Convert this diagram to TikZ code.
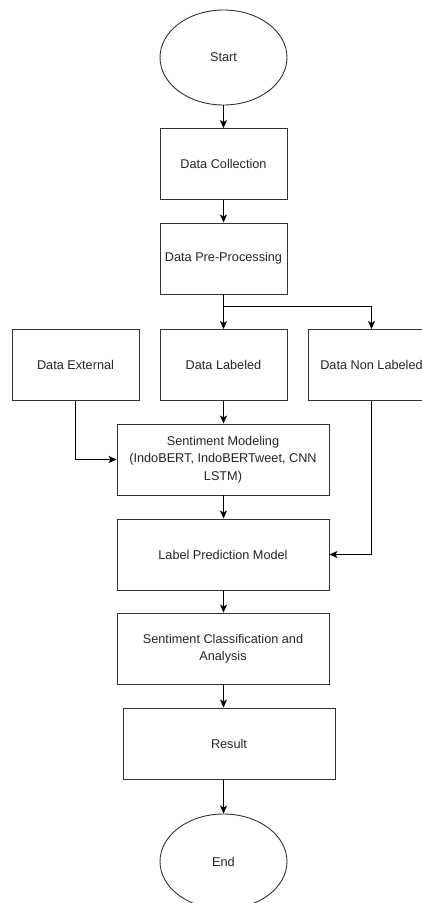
\documentclass[tikz,border=0pt]{standalone}
\usepackage{fontspec}
\setmainfont{Liberation Sans}
\usetikzlibrary{shapes,arrows.meta,positioning}

\begin{document}
\begin{tikzpicture}[x=1pt, y=-1pt,
    process/.style={rectangle, draw=black!80, line width=0.9pt, fill=white,
                    minimum width=127pt, minimum height=71pt, align=center,
                    inner sep=2pt, text=black!85, font=\fontsize{12.7}{17.5}\selectfont},
    widebox/.style={process, minimum width=212pt},
    terminal/.style={ellipse, draw=black!80, line width=0.9pt, fill=white,
                     minimum width=127pt, minimum height=95pt, inner sep=0pt,
                     text=black!85, font=\fontsize{12.7}{17.5}\selectfont},
    flow/.style={draw=black, line width=0.9pt, -{Stealth[length=8pt,width=7pt,inset=2pt]}}
]
    \useasboundingbox (0,0) rectangle (422,903);

    % Main column
    \node[terminal] (start) at (223.5,57.5) {Start};
    \node[process] (collect) at (223.5,164) {Data Collection};
    \node[process] (preproc) at (223.5,258.5) {Data Pre-Processing};

    % Data sources
    \node[process] (external) at (75.5,365) {Data External};
    \node[process] (labeled) at (223.5,365) {Data Labeled};
    \node[process] (nonlabeled) at (371.5,365) {Data Non Labeled};

    % Modeling and prediction
    \node[widebox] (modeling) at (223,459.5) {Sentiment Modeling\\(IndoBERT, IndoBERTweet, CNN\\LSTM)};
    \node[widebox] (predict) at (223,554.5) {Label Prediction Model};
    \node[widebox] (classify) at (223,648.5) {Sentiment Classification and\\Analysis};
    \node[widebox] (result) at (229,743.5) {Result};
    \node[terminal] (finish) at (223.5,861.5) {End};

    % Connectors
    \draw[flow] (start) -- (collect);
    \draw[flow] (collect) -- (preproc);
    \draw[flow] (preproc) -- (labeled);
    \draw[flow] (preproc.south) -- ++(0,12) -| (nonlabeled.north);
    \draw[flow] (labeled.south) -- (labeled.south |- modeling.north);
    \draw[flow] (external.south) |- (modeling.west);
    \draw[flow] (modeling.south -| labeled) -- (predict.north -| labeled);
    \draw[flow] (nonlabeled.south) |- (predict.east);
    \draw[flow] (predict.south -| labeled) -- (classify.north -| labeled);
    \draw[flow] (classify.south -| labeled) -- (result.north -| labeled);
    \draw[flow] (result.south -| finish) -- (finish.north);
\end{tikzpicture}
\end{document}
